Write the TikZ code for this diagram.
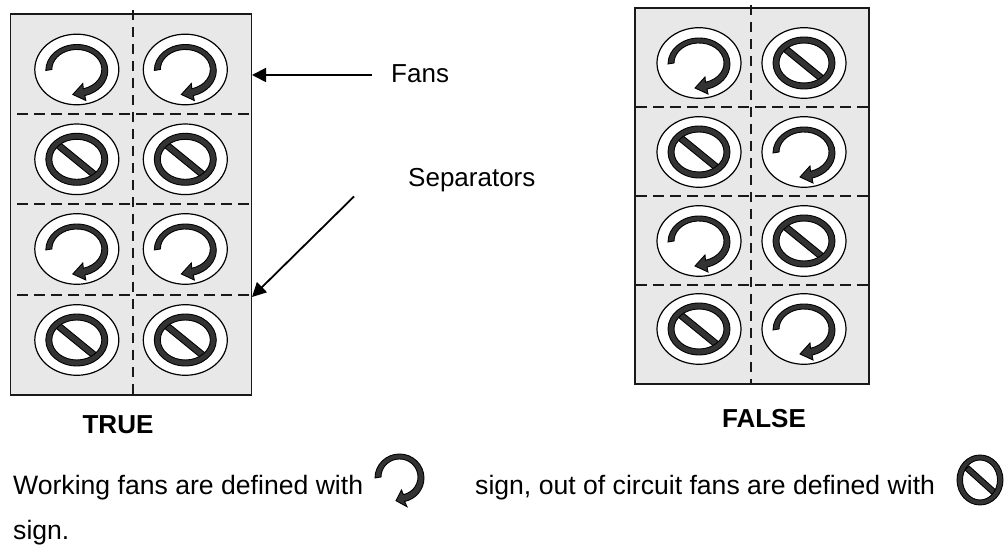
\documentclass[tikz,border=0pt]{standalone}
\usepackage{fontspec}
\setmainfont{Liberation Sans}
\usetikzlibrary{arrows.meta}
\colorlet{BoxSurface}{black!9}
\colorlet{SignDark}{black!80}
\tikzset{
    boxFrame/.style={draw=black!90, line width=1.6pt, fill=BoxSurface},
    separator/.style={draw=black!90, line width=1.6pt, dash pattern=on 10.5pt off 6.5pt},
    fanBody/.style={draw=black, line width=1.2pt, fill=white},
    signShape/.style={draw=black, line width=0.9pt, fill=SignDark},
    pointer/.style={draw=black, line width=1.8pt, -{Triangle[length=14pt,width=14pt]}},
    plainText/.style={inner sep=0pt, anchor=base west, font=\fontsize{26}{26}\selectfont},
    noteText/.style={inner sep=0pt, anchor=base west, font=\fontsize{26.6}{26.6}\selectfont},
    boldText/.style={inner sep=0pt, anchor=base, font=\fontsize{26}{26}\selectfont\bfseries},
    pics/onSign/.style={code={
        \path[signShape] (-31,-1) arc [start angle=180, end angle=-75, x radius=31, y radius=26]
        -- (9,-31) -- (-4,-25) -- (6,-14) --
        (6.5,-19.3) arc [start angle=-75, end angle=180, x radius=25, y radius=20]
        -- cycle;
    }},
    pics/offSign/.style={code={
        \path[signShape] (-21,12) -- (-17,17) -- (21,-14) -- (17,-19) -- cycle;
        \path[signShape, even odd rule] (0,0) ellipse [x radius=31, y radius=26]
        (0,0) ellipse [x radius=25, y radius=20];
    }},
    pics/noteOnSign/.style={code={
        \path[signShape] (-24.5,-1) arc [start angle=180, end angle=-78, x radius=24.5, y radius=24]
        -- (7.5,-29.7) -- (-3.5,-23.7) -- (2,-13) --
        (3.85,-17.6) arc [start angle=-78, end angle=180, x radius=18.5, y radius=18]
        -- cycle;
    }},
    pics/noteOffSign/.style={code={
        \path[signShape] (-15,10) -- (-11,14) -- (19,-13) -- (15,-17) -- cycle;
        \path[signShape, even odd rule] (0,0) ellipse [x radius=23, y radius=25]
        (0,0) ellipse [x radius=17.5, y radius=20];
    }},
    pics/fanOn/.style={code={
        \path[fanBody] (0,0) ellipse [x radius=42, y radius=35.3];
        \pic {onSign};
    }},
    pics/fanOff/.style={code={
        \path[fanBody] (0,0) ellipse [x radius=42, y radius=35.3];
        \pic {offSign};
    }},
}

\begin{document}
\begin{tikzpicture}[x=1pt, y=1pt]

    \useasboundingbox (0,0) rectangle (1004,545);

    % Left box

    \path[boxFrame] (10.5,150) rectangle (251.5,531);
    \path[separator] (133,535) -- (133,150);
    \path[separator] (17,431) -- (251,431);
    \path[separator] (17,341) -- (251,341);
    \path[separator] (17,250) -- (251,250);

    \pic at (76.8,475.5) {fanOn};
    \pic at (185.3,475.5) {fanOn};
    \pic at (76.8,385.7) {fanOff};
    \pic at (185.3,385.7) {fanOff};
    \pic at (76.8,296) {fanOn};
    \pic at (185.3,296) {fanOn};
    \pic at (76.8,205) {fanOff};
    \pic at (185.3,205) {fanOff};

    \node[boldText] (trueLabel) at (118,111) {TRUE};

    % Right box

    \path[boxFrame] (635,161) rectangle (869,537);
    \path[separator] (751,540) -- (751,161);
    \path[separator] (636,438) -- (869,438);
    \path[separator] (636,349) -- (869,349);
    \path[separator] (636,260) -- (869,260);

    \pic at (699,482) {fanOn};
    \pic at (804,482) {fanOff};
    \pic at (699,393) {fanOff};
    \pic at (804,393) {fanOn};
    \pic at (699,304) {fanOn};
    \pic at (804,304) {fanOff};
    \pic at (699,216) {fanOff};
    \pic at (804,216) {fanOn};

    \node[boldText] (falseLabel) at (764,117) {FALSE};

    % Callouts

    \node[plainText] (fansLabel) at (391,462) {Fans};
    \node[plainText] (separatorsLabel) at (408,358) {Separators};
    \coordinate (fansTail) at (372,470);
    \coordinate (fansTip) at (252,470);
    \coordinate (separatorsTail) at (354,348.5);
    \coordinate (separatorsTip) at (252,248);
    \draw[pointer] (fansTail) -- (fansTip);
    \draw[pointer] (separatorsTail) -- (separatorsTip);

    % Note under the boxes

    \node[noteText] (noteOne) at (13,50) {Working fans are defined with};
    \pic at (399.5,68) {noteOnSign};
    \node[noteText] (noteTwo) at (475,50) {sign, out of circuit fans are defined with};
    \pic at (980,65) {noteOffSign};
    \node[noteText] (noteThree) at (13,5) {sign.};

\end{tikzpicture}
\end{document}
